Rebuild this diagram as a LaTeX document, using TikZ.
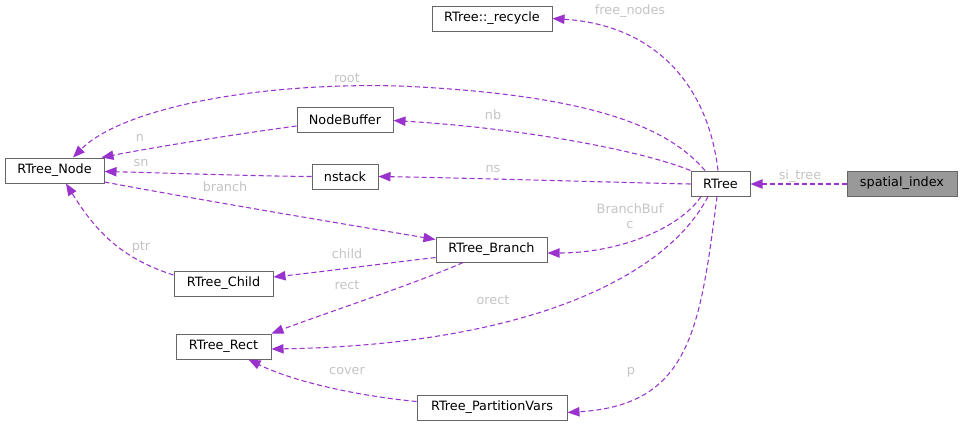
\documentclass[tikz,border=0pt]{standalone}
\usepackage{fontspec}
\setmainfont{DejaVu Sans}
\usetikzlibrary{arrows.meta,calc}
\definecolor{edgecol}{HTML}{9A32CD}
\definecolor{boxline}{HTML}{666666}
\definecolor{labcol}{HTML}{C4C4C4}
\definecolor{hilite}{HTML}{999999}
\tikzset{
  cls/.style={draw=boxline, line width=0.75pt, fill=white, inner sep=0pt,
    minimum height=18.75pt, font=\fontsize{9.6}{11}\selectfont, text=black},
  hl/.style={cls, fill=hilite},
  rel/.style={draw=edgecol, line width=0.8pt, dash pattern=on 3.75pt off 2.25pt,
    -{Triangle[length=9pt,width=7pt]}},
  lab/.style={text=labcol, font=\fontsize{9.6}{11}\selectfont, inner sep=0pt, align=center}
}
\begin{document}
\begin{tikzpicture}[x=0.75pt,y=-0.75pt]
\useasboundingbox (0,0) rectangle (963,426);
% nodes
\node[cls, minimum width=90pt]    (recycle) at (492,18.5) {RTree::\_recycle};
\node[cls, minimum width=74.25pt] (node)    at (54.5,170.5) {RTree\_Node};
\node[cls, minimum width=72pt]    (nbuf)    at (345,119.5) {NodeBuffer};
\node[cls, minimum width=49.5pt]  (nstack)  at (345,176.5) {nstack};
\node[cls, minimum width=44.25pt] (rtree)   at (720.5,183.5) {RTree};
\node[hl,  minimum width=82.5pt]  (si)      at (902,183.5) {spatial\_index};
\node[cls, minimum width=83.25pt] (branch)  at (491.5,249.5) {RTree\_Branch};
\node[cls, minimum width=74.25pt] (child)   at (223.5,283.5) {RTree\_Child};
\node[cls, minimum width=71.25pt] (rect)    at (223.5,346.5) {RTree\_Rect};
\node[cls, minimum width=112.5pt] (pv)      at (492,407.5) {RTree\_PartitionVars};
% edges
\draw[rel] ($(si.west)+(0,0.5)$) -- ($(rtree.east)+(0,0.5)$);
\node[lab] (l_si) at (800,176) {si\_tree};

\draw[rel] ($(rtree.north)+(-2.5,0)$) .. controls (708,85) and (655,25) .. (recycle.east);
\node[lab] (l_free) at (630,11) {free\_nodes};

\draw[rel] ($(rtree.north)+(-15.5,0)$) .. controls (670,130) and (600,95) .. (400,86)
   .. controls (250,82) and (120,110) .. ($(node.north)+(18.5,0)$);
\node[lab] (l_root) at (347,78) {root};

\draw[rel] (rtree.north west) .. controls (640,150) and (520,128) .. ($(nbuf.east)+(0,1)$);
\node[lab] (l_nb) at (493,115) {nb};

\draw[rel] ($(nbuf.west)+(0,6.5)$) .. controls (230,135) and (150,148) .. ($(node.north east)+(-3,0)$);
\node[lab] (l_n) at (140,138) {n};

\draw[rel] ($(rtree.west)+(0,0.5)$) .. controls (600,182) and (470,178) .. (nstack.east);
\node[lab] (l_ns) at (493,169) {ns};

\draw[rel] (nstack.west) .. controls (250,176) and (170,173) .. ($(node.east)+(0,1)$);
\node[lab] (l_sn) at (141,163) {sn};

\draw[rel] ($(node.south east)+(0,-1.5)$) .. controls (200,200) and (350,225) .. ($(branch.north west)+(0,3)$);
\node[lab] (l_br) at (225,187) {branch};

\draw[rel] ($(rtree.south)+(-19.5,0)$) .. controls (680,228) and (620,253) .. ($(branch.east)+(0,3.5)$);
\node[lab] (l_bb) at (630,216) {BranchBuf\\c};

\draw[rel] ($(branch.west)+(0,8)$) .. controls (380,264) and (320,272) .. ($(child.east)+(0,-6.5)$);
\node[lab] (l_child) at (347,254) {child};

\draw[rel] ($(branch.south)+(-28.5,0)$) .. controls (420,282) and (320,315) .. (rect.north east);
\node[lab] (l_rect) at (347,285) {rect};

\draw[rel] ($(rtree.south)+(-12.5,0)$) .. controls (665,280) and (520,345) .. ($(rect.east)+(0,2.5)$);
\node[lab] (l_orect) at (493,300) {orect};

\draw[rel] ($(child.west)+(0,-8.5)$) .. controls (120,258) and (95,230) .. ($(node.south)+(11.5,0)$);
\node[lab] (l_ptr) at (141,247) {ptr};

\draw[rel] ($(pv.west)+(0,-6)$) .. controls (350,395) and (290,380) .. ($(rect.south)+(25,0)$);
\node[lab] (l_cover) at (347,371) {cover};

\draw[rel] ($(rtree.south)+(-3.5,0)$) .. controls (700,330) and (690,405) .. ($(pv.east)+(0,5)$);
\node[lab] (l_p) at (631,372) {p};
\end{tikzpicture}
\end{document}
